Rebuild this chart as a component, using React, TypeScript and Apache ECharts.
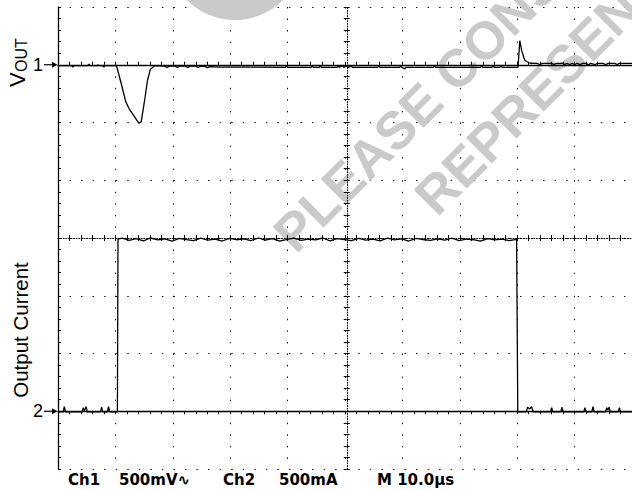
import React, { useEffect, useRef } from "react";
import * as echarts from "echarts";

// ---- Data ----
// Ch1: V_OUT, AC coupled, 500 mV/div, deviation in mV from marker "1"
const voutTimeUs = [
  0, 2.4, 2.6, 2.8, 5.2, 5.4, 5.6, 6.8, 7.0, 7.2, 7.8, 8.0, 8.2, 10.2,
  10.3, 11.0, 11.8, 12.5, 13.0, 14.1, 14.5, 15.1, 15.6, 16.1, 16.8,
  17.5, 18.6, 19.0, 19.4, 20.4, 20.8, 21.2, 22.2, 22.6, 23.0, 24.0, 24.4, 24.8, 25.6, 26.0, 26.4,
  28, 39.6, 39.8, 40.0, 44.1, 44.3, 44.5, 45.5, 45.7, 45.9, 48.6, 48.8, 49.0, 49.6, 49.8, 50.3, 50.5,
  51.1, 51.3, 55.7, 55.9, 56.1, 59.5, 59.7, 59.9, 60.4, 60.6, 65.4, 65.6, 65.8, 73.6, 73.8, 74.0,
  75.6, 75.8, 76.0, 77.0, 77.2, 77.4, 80.0,
  80.15, 80.45, 80.8, 81.3, 81.7, 82.3,
  83.5, 84.0, 84.4, 86.0, 86.4, 86.8, 88.0, 88.3, 88.6, 89.2, 89.6, 90.0, 90.4, 91.0, 91.4,
  92.0, 92.4, 92.8, 93.6, 94.0, 95.0, 95.4, 95.8, 97.0, 97.4, 97.8, 100,
];
const voutMv = [
  -8, -8, -20, -8, -8, 4, -8, -8, -2, -8, -8, -20, -8, -8,
  -5, -160, -319, -391, -426, -507, -493, -305, -132, -40, -8,
  -10, -12, -24, -12, -12, -24, -12, -12, -24, -12, -12, -24, -12, -14, -26, -16,
  -20, -22, -10, -22, -22, -12, -22, -22, -10, -22, -22, -10, -22, -8, -22, -10, -22,
  -12, -22, -22, -12, -22, -22, -10, -22, -36, -22, -22, -10, -22, -22, -10, -22,
  -22, -8, -22, -22, -10, -22, -22,
  -20, 208, 120, 41, 26, 13,
  12, 0, 12, 12, 2, 12, 12, 0, 12, 2, 12, 0, 12, 2, 12,
  12, 0, 12, 2, 12, 12, 0, 12, 12, 2, 12, 12,
];

// Ch2: output current, 500 mA/div, from marker "2"
const currentTimeUs = [
  0, 0.9, 1.1, 1.3, 4.2, 4.4, 4.6, 4.9, 5.1, 7.4, 7.6, 7.8, 8.6, 8.8, 9.0, 10.35, 10.45,
  11.2, 12.4, 13.6, 14.9, 16.1, 17.4, 18.6, 19.9,
  21.1, 22.4, 23.6, 24.9, 26.1, 27.4, 28.6, 29.9,
  31.1, 32.4, 33.6, 34.9, 36.1, 37.4, 38.6, 39.9,
  41.1, 42.4, 43.6, 44.9, 46.1, 47.4, 48.6, 49.9,
  51.1, 52.4, 53.6, 54.9, 56.1, 57.4, 58.6, 59.9,
  61.1, 62.4, 63.6, 64.9, 66.1, 67.4, 68.6, 69.9,
  71.1, 72.4, 73.6, 74.9, 76.1, 77.4, 78.6, 79.9,
  80.0, 80.1, 81.6, 81.8, 82.2, 82.5, 82.8, 85.8, 86.0, 86.2, 87.6, 87.8, 88.0,
  91.6, 91.8, 92.0, 93.0, 93.2, 93.4, 95.4, 95.6, 95.8, 96.0, 96.2, 97.6, 97.8, 98.0, 100,
];
const currentMa = [
  -5, -5, 40, -5, -5, 30, 5, 40, -5, -5, 35, -5, -5, 40, -5, -5, 1490,
  1498, 1480, 1494, 1476, 1500, 1484, 1492, 1472,
  1496, 1486, 1478, 1499, 1482, 1490, 1474, 1497,
  1485, 1493, 1477, 1500, 1481, 1495, 1473, 1489,
  1498, 1479, 1491, 1483, 1500, 1475, 1494, 1486,
  1478, 1497, 1482, 1490, 1476, 1499, 1484, 1492,
  1474, 1496, 1487, 1479, 1493, 1481, 1498, 1477,
  1490, 1485, 1473, 1495, 1483, 1491, 1478, 1488,
  1486, -5, -5, 35, 20, 40, -5, -5, 30, -5, -5, 35, -5,
  -5, 30, -5, -5, 40, -5, -5, 30, 10, 35, -5, -5, 30, -5, -5,
];

// Axis ranges (8 vertical divisions, 10 horizontal divisions)
const timeRangeUs = [0, 100, 10];
const voutRangeMv = [-3500, 500, 500];
const currentRangeMa = [-500, 3500, 500];
const divRange = [0, 8, 1];

const channelMarkers = ["1", "2"];
const axisTitles = ["V", "OUT", "Output Current"];
const bottomLabels = ["Ch1", "500mV\u223F", "Ch2", "500mA", "M 10.0\u00B5s"];
const watermarkLines = ["PLEASE CONSULT", "REPRESENTATIVE"];

export default function App() {
  const ref = useRef<HTMLDivElement>(null);

  useEffect(() => {
    const el = ref.current!;
    const chart = echarts.init(el, null, { renderer: "svg", width: 632, height: 490 });

    const GL = 58, GT = 7, GW = 577.5, GH = 462;
    const div = GH / 8;
    const minor = div / 5;
    const black = "#000";
    const font = "'Liberation Sans', Arial, sans-serif";
    const dotted = { color: black, width: 1, type: [1.4, minor - 1.4] as number[] };
    const frameLine = { show: true, lineStyle: { color: black, width: 1.3 } };
    const inTick = { show: true, inside: true, length: 3, lineStyle: { color: black, width: 1 } };
    const outTick = { show: true, inside: false, length: 3, lineStyle: { color: black, width: 1 } };
    const minorT = { show: true, splitNumber: 5, length: 3, lineStyle: { color: black, width: 1 } };
    const centerLine = { show: true, lineStyle: { color: black, width: 1, type: [1, 1.6] as number[] } };

    const xBase = {
      type: "value",
      min: timeRangeUs[0],
      max: timeRangeUs[1],
      interval: timeRangeUs[2],
      axisLabel: { show: false },
      splitLine: { show: false },
    };
    const divBase = {
      type: "value",
      min: divRange[0],
      max: divRange[1],
      interval: divRange[2],
      axisLabel: { show: false },
      splitLine: { show: false },
    };

    const vout = voutTimeUs.map((t, i) => [t, voutMv[i]]);
    const cur = currentTimeUs.map((t, i) => [t, currentMa[i]]);

    const wmStyle = { fill: "#cacaca", fontSize: 53, fontWeight: "bold", fontFamily: font };

    chart.setOption({
      animation: false,
      backgroundColor: "#fff",
      grid: { left: GL, top: GT, width: GW, height: GH, containLabel: false },
      xAxis: [
        { ...xBase, position: "bottom", axisLine: frameLine, axisTick: inTick, minorTick: minorT,
          splitLine: { show: true, lineStyle: dotted } },
        { ...xBase, position: "top", axisLine: frameLine, axisTick: inTick, minorTick: minorT },
        { ...xBase, position: "bottom", offset: -GH / 2, axisLine: centerLine, axisTick: inTick, minorTick: minorT },
        { ...xBase, position: "bottom", offset: -GH / 2, axisLine: { show: false }, axisTick: outTick, minorTick: minorT },
      ],
      yAxis: [
        {
          type: "value", min: voutRangeMv[0], max: voutRangeMv[1], interval: voutRangeMv[2],
          position: "left", axisLine: frameLine, axisTick: inTick, minorTick: minorT,
          splitLine: { show: true, lineStyle: dotted },
          axisLabel: { show: true, margin: 15, fontSize: 18, fontFamily: font, color: black,
            formatter: (v: number) => (v === 0 ? channelMarkers[0] : "") },
        },
        {
          type: "value", min: currentRangeMa[0], max: currentRangeMa[1], interval: currentRangeMa[2],
          position: "left", axisLine: { show: false }, axisTick: { show: false }, splitLine: { show: false },
          axisLabel: { show: true, margin: 15, fontSize: 18, fontFamily: font, color: black,
            formatter: (v: number) => (v === 0 ? channelMarkers[1] : "") },
        },
        { ...divBase, position: "left", offset: -GW / 2, axisLine: centerLine, axisTick: inTick, minorTick: minorT },
        { ...divBase, position: "left", offset: -GW / 2, axisLine: { show: false }, axisTick: outTick, minorTick: minorT },
      ],
      series: [
        { type: "line", name: "VOUT", xAxisIndex: 0, yAxisIndex: 0, data: vout, showSymbol: false, symbol: "none",
          lineStyle: { color: black, width: 1.3 }, z: 5 },
        { type: "line", name: "Output Current", xAxisIndex: 0, yAxisIndex: 1, data: cur, showSymbol: false, symbol: "none",
          lineStyle: { color: black, width: 1.3 }, z: 5 },
      ],
    });

    const y1 = chart.convertToPixel({ yAxisIndex: 0 }, 0) as number;
    const y2 = chart.convertToPixel({ yAxisIndex: 1 }, 0) as number;
    const arrow = (y: number) => [
      { type: "line", shape: { x1: GL - 14, y1: y, x2: GL - 4, y2: y }, style: { stroke: black, lineWidth: 1.2 } },
      { type: "polygon", shape: { points: [[GL - 6, y - 3], [GL - 0.5, y], [GL - 6, y + 3]] }, style: { fill: black } },
    ];
    const txt = (text: string, x: number, y: number, size: number, extra: any = {}, rotation = 0) => ({
      type: "text",
      x, y, rotation,
      silent: true,
      style: {
        text, fill: black, fontSize: size, fontFamily: font,
        align: "left", verticalAlign: "middle", textAlign: "left", textVerticalAlign: "middle",
        ...extra,
      },
    });
    const bx = [68, 119, 223, 279, 377];
    const bottomFont = { fontFamily: "'DejaVu Sans', sans-serif", fontWeight: "bold" };

    chart.setOption({
      graphic: [
        { type: "circle", shape: { cx: 235, cy: -48, r: 68 }, style: { fill: "#cacaca" }, silent: true, z: 0 },
        { ...txt(watermarkLines[0], 283, 242, 53, wmStyle, Math.PI / 4), z: 0 },
        { ...txt(watermarkLines[1], 424, 205, 53, wmStyle, Math.PI / 4), z: 0 },
        ...arrow(y1),
        ...arrow(y2),
        txt(axisTitles[0], 17, 87, 22, {}, Math.PI / 2),
        txt(axisTitles[1], 21, 72, 16, {}, Math.PI / 2),
        txt(axisTitles[2], 20, 330, 20.5, { align: "center", textAlign: "center" }, Math.PI / 2),
        ...bottomLabels.map((s, i) => txt(s, bx[i], 480, 15, bottomFont)),
      ],
    });

    return () => chart.dispose();
  }, []);

  return (
    <div
      ref={ref}
      style={{ position: "fixed", left: 0, top: 0, width: 632, height: 490, background: "#fff" }}
    />
  );
}
